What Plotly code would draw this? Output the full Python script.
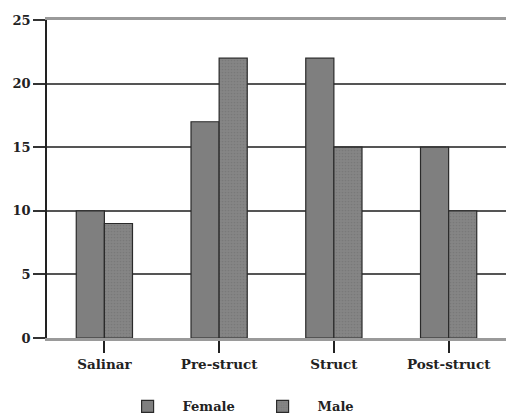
import plotly.graph_objects as go

categories = ["Salinar", "Pre-struct", "Struct", "Post-struct"]
female = [10, 17, 22, 15]
male = [9, 22, 15, 10]
y_ticks = [0, 5, 10, 15, 20, 25]

font = dict(family="DejaVu Serif, Liberation Serif, serif", size=13, color="#222", weight="bold")

fig = go.Figure()
fig.add_trace(go.Bar(x=categories, y=female, name="Female",
                     marker=dict(color="#7f7f7f", line=dict(color="#2a2a2a", width=1.2))))
fig.add_trace(go.Bar(x=categories, y=male, name="Male",
                     marker=dict(color="#808080", line=dict(color="#2a2a2a", width=1.2),
                                 pattern=dict(shape=".", size=3, solidity=0.25, fgcolor="#6e6e6e", bgcolor="#858585"))))

fig.update_layout(
    width=506, height=419,
    margin=dict(l=47, r=0, t=20, b=81),
    barmode="group", bargap=0.51, bargroupgap=0,
    plot_bgcolor="white", paper_bgcolor="white",
    font=font,
    legend=dict(orientation="h", x=0.437, xanchor="center", yref="container", y=0.03, yanchor="middle",
                font=font, itemwidth=60, entrywidth=60, entrywidthmode="pixels"),
    xaxis=dict(showline=True, linecolor="#9a9a9a", linewidth=3, mirror=True, ticks="outside",
               ticklen=12, tickwidth=1.5, tickcolor="#222", showgrid=False, automargin=False,
               tickfont=dict(font, size=13.5)),
    yaxis=dict(range=[0, 25], tickvals=y_ticks, showline=True, linecolor="#222", linewidth=1.5,
               ticks="outside", ticklen=12, tickwidth=1.5, tickcolor="#333", automargin=False,
               showgrid=True, gridcolor="#555", gridwidth=1.8, zeroline=False,
               tickfont=font),
)
fig.write_html("out.html", config={"displayModeBar": False},
               post_script="document.body.style.margin='0';")
